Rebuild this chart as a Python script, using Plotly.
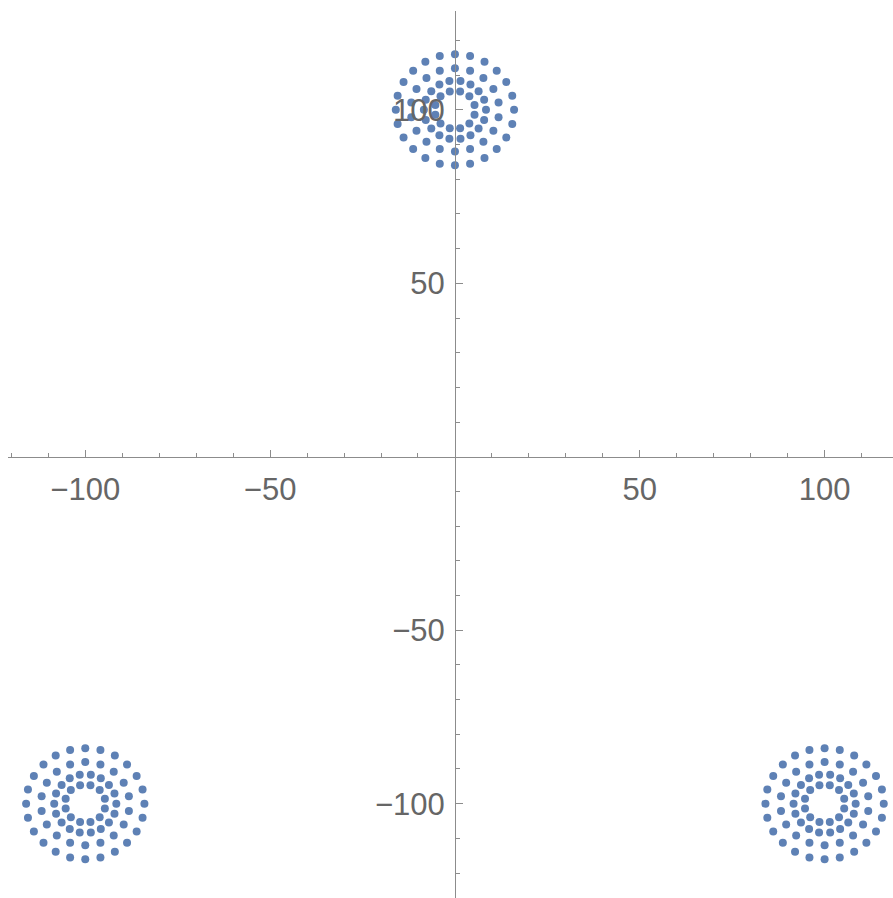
import plotly.graph_objects as go

# Cluster centres
center_x = [0, -100, 100]
center_y = [100, -100, -100]

# Point offsets of one cluster relative to its centre (four concentric rings)
offset_x = [
    # outer ring
    16, 15.5, 13.9, 11.3, 8.0, 4.1, 0, -4.1, -8.0, -11.3, -13.9, -15.5,
    -16, -15.5, -13.9, -11.3, -8.0, -4.1, 0, 4.1, 8.0, 11.3, 13.9, 15.5,
    # second ring
    11.8, 10.4, 7.7, 4.1, 0, -4.1, -7.7, -10.4, -11.8,
    -11.8, -10.4, -7.7, -4.1, 0, 4.1, 7.7, 10.4, 11.8,
    # third ring
    8.4, 7.9, 6.4, 4.2, 1.5, -1.5, -4.2, -6.4, -7.9,
    -8.4, -7.9, -6.4, -4.2, -1.5, 1.5, 4.2, 6.4, 7.9,
    # inner ring
    5.3, 3.9, 1.4, -1.4, -3.9, -5.3, -5.3, -3.9, -1.4, 1.4, 3.9, 5.3,
]
offset_y = [
    0, 4.1, 8.0, 11.3, 13.9, 15.5, 16, 15.5, 13.9, 11.3, 8.0, 4.1,
    0, -4.1, -8.0, -11.3, -13.9, -15.5, -16, -15.5, -13.9, -11.3, -8.0, -4.1,
    2.1, 6.0, 9.2, 11.3, 12, 11.3, 9.2, 6.0, 2.1,
    -2.1, -6.0, -9.2, -11.3, -12, -11.3, -9.2, -6.0, -2.1,
    0, 2.9, 5.4, 7.3, 8.3, 8.3, 7.3, 5.4, 2.9,
    0, -2.9, -5.4, -7.3, -8.3, -8.3, -7.3, -5.4, -2.9,
    1.4, 3.9, 5.3, 5.3, 3.9, 1.4, -1.4, -3.9, -5.3, -5.3, -3.9, -1.4,
]

# Axis ticks
major_ticks = [-100, -50, 50, 100]
major_labels = ["\u2212100", "\u221250", "50", "100"]
x_minor = [-120, -110, -90, -80, -70, -60, -40, -30, -20, -10,
           10, 20, 30, 40, 60, 70, 80, 90, 110]
y_minor = [-120, -110, -90, -80, -70, -60, -40, -30, -20, -10,
           10, 20, 30, 40, 60, 70, 80, 90, 110, 120]

x_range = [-120.9, 118.5]
y_range = [-127.2, 128.5]

xs, ys = [], []
for cx, cy in zip(center_x, center_y):
    for dx, dy in zip(offset_x, offset_y):
        xs.append(cx + dx)
        ys.append(cy + dy)

fig = go.Figure(go.Scatter(
    x=xs, y=ys, mode="markers",
    marker=dict(size=8, color="#5E81B5", line=dict(width=0)),
    hoverinfo="skip",
))

axis_color = "#8c8c8c"
label_font = dict(family="Liberation Sans, Arial, sans-serif", size=31, color="#666666")

x_pos = (0 - y_range[0]) / (y_range[1] - y_range[0])
y_pos = (0 - x_range[0]) / (x_range[1] - x_range[0])

fig.update_layout(
    width=893, height=898,
    margin=dict(l=8, r=0, t=11, b=0),
    paper_bgcolor="white", plot_bgcolor="white",
    showlegend=False,
    xaxis=dict(
        range=x_range, anchor="free", position=x_pos,
        showgrid=False, zeroline=False,
        showline=True, linecolor=axis_color, linewidth=1,
        tickmode="array", tickvals=major_ticks, ticktext=major_labels,
        ticks="inside", ticklen=7, tickwidth=1, tickcolor=axis_color,
        tickfont=label_font, ticklabelstandoff=5,
        minor=dict(tickmode="array", tickvals=x_minor, ticks="inside",
                   ticklen=4, tickwidth=1, tickcolor=axis_color, showgrid=False),
    ),
    yaxis=dict(
        range=y_range, anchor="free", position=y_pos,
        showgrid=False, zeroline=False,
        showline=True, linecolor=axis_color, linewidth=1,
        tickmode="array", tickvals=major_ticks, ticktext=major_labels,
        ticks="inside", ticklen=7, tickwidth=1, tickcolor=axis_color,
        tickfont=label_font, ticklabelstandoff=4,
        minor=dict(tickmode="array", tickvals=y_minor, ticks="inside",
                   ticklen=4, tickwidth=1, tickcolor=axis_color, showgrid=False),
    ),
)

fig.write_html("out.html")
